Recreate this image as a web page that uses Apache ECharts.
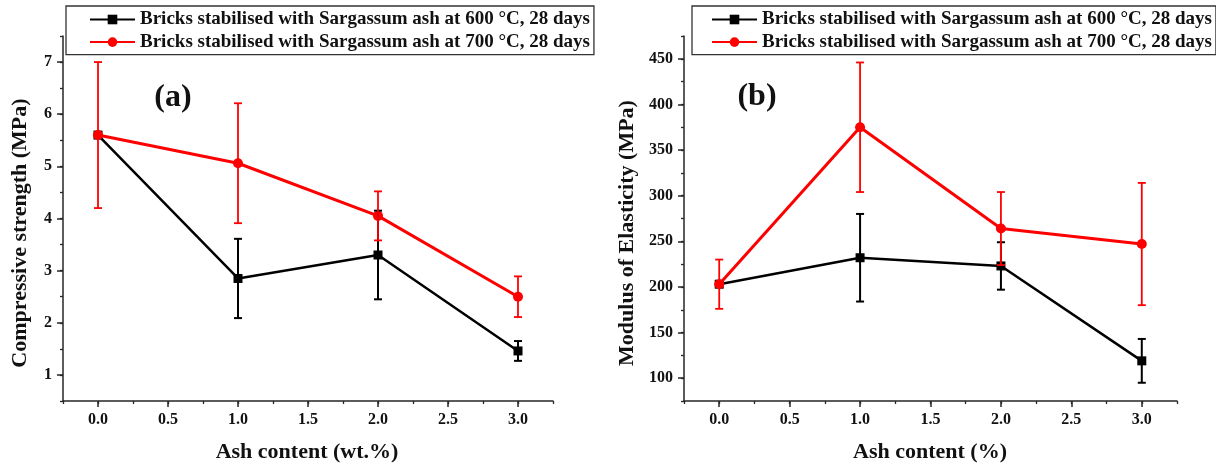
<!DOCTYPE html>
<html>
<head>
<meta charset="utf-8">
<script src="https://cdn.jsdelivr.net/npm/echarts@6/dist/echarts.min.js"></script>
<style>
html,body{margin:0;padding:0;background:#fff;}
#chart{width:1216px;height:468px;}
</style>
</head>
<body>
<div id="chart"></div>
<script>
// ---- data ----
const ashContent = [0, 1, 2, 3];
const seriesNames = [
  'Bricks stabilised with Sargassum ash at 600 °C, 28 days',
  'Bricks stabilised with Sargassum ash at 700 °C, 28 days'
];
const strength600 = [5.60, 2.85, 3.30, 1.46];
const strength600Err = [0, 0.76, 0.85, 0.19];
const strength700 = [5.60, 5.06, 4.05, 2.50];
const strength700Err = [1.40, 1.15, 0.47, 0.39];
const modulus600 = [203, 232, 223, 119];
const modulus600Err = [0, 48, 26, 24];
const modulus700 = [203, 375, 264, 247];
const modulus700Err = [27, 71, 40, 67];
const xTickLabels = [0, 0.5, 1, 1.5, 2, 2.5, 3];
const strengthTicks = [1, 2, 3, 4, 5, 6, 7];
const modulusTicks = [100, 150, 200, 250, 300, 350, 400, 450];
const panelLabels = ['(a)', '(b)'];
const xTitles = ['Ash content (wt.%)', 'Ash content (%)'];
const yTitles = ['Compressive strength (MPa)', 'Modulus of Elasticity (MPa)'];

const FONT = '"Liberation Serif", "Times New Roman", serif';
const BLACK = '#000';
const RED = '#ff0000';
const AXIS = '#262626';

function pairs(xs, ys) { return xs.map((x, i) => [x, ys[i]]); }
function triples(xs, ys, es) { return xs.map((x, i) => [x, ys[i], es[i]]); }

function errRender(color, width) {
  return function (params, api) {
    const x = api.value(0), y = api.value(1), e = api.value(2);
    if (!e) return null;
    const top = api.coord([x, y + e]);
    const bot = api.coord([x, y - e]);
    const hw = 4;
    const st = { stroke: color, lineWidth: width };
    return {
      type: 'group',
      children: [
        { type: 'line', shape: { x1: top[0], y1: top[1], x2: bot[0], y2: bot[1] }, style: st },
        { type: 'line', shape: { x1: top[0] - hw, y1: top[1], x2: top[0] + hw, y2: top[1] }, style: st },
        { type: 'line', shape: { x1: bot[0] - hw, y1: bot[1], x2: bot[0] + hw, y2: bot[1] }, style: st }
      ]
    };
  };
}

const tickLabelStyle = { fontFamily: FONT, fontWeight: 'bold', fontSize: 16, color: '#111' };

function mainX(gridIndex) {
  return {
    type: 'value', gridIndex, min: -0.25, max: 3.25, interval: 0.25,
    axisLine: { show: true, onZero: false, lineStyle: { color: AXIS, width: 1.5 } },
    axisTick: { show: true, inside: false, length: 6, lineStyle: { color: AXIS, width: 1.5 }, customValues: xTickLabels },
    axisLabel: Object.assign({ margin: 11, customValues: xTickLabels, formatter: v => Number(v).toFixed(1) }, tickLabelStyle),
    splitLine: { show: false }
  };
}
function minorX(gridIndex) {
  return {
    type: 'value', gridIndex, min: -0.25, max: 3.25, interval: 0.25, position: 'bottom', offset: 0,
    axisLine: { show: false, onZero: false },
    axisTick: { show: true, inside: false, length: 3, lineStyle: { color: AXIS, width: 1.3 } },
    axisLabel: { show: false }, splitLine: { show: false }
  };
}
function mainY(gridIndex, min, max, minorInt, ticks) {
  return {
    type: 'value', gridIndex, min, max, interval: minorInt, position: 'left',
    axisLine: { show: true, onZero: false, lineStyle: { color: AXIS, width: 1.5 } },
    axisTick: { show: true, inside: false, length: 6, lineStyle: { color: AXIS, width: 1.5 }, customValues: ticks },
    axisLabel: Object.assign({ margin: 11, customValues: ticks }, tickLabelStyle),
    splitLine: { show: false }
  };
}
function minorY(gridIndex, min, max, minorInt) {
  return {
    type: 'value', gridIndex, min, max, interval: minorInt, position: 'left', offset: 0,
    axisLine: { show: false, onZero: false },
    axisTick: { show: true, inside: false, length: 3, lineStyle: { color: AXIS, width: 1.3 } },
    axisLabel: { show: false }, splitLine: { show: false }
  };
}

function lineSeries(name, xi, yi, data, color, symbol, size, width, z) {
  return {
    name, type: 'line', xAxisIndex: xi, yAxisIndex: yi, data,
    symbol, symbolSize: size, showSymbol: true,
    lineStyle: { color, width }, itemStyle: { color }, z, animation: false
  };
}
function errSeries(xi, yi, data, color, width, z) {
  return {
    type: 'custom', xAxisIndex: xi, yAxisIndex: yi, data,
    renderItem: errRender(color, width), z, animation: false, silent: true,
    encode: { x: 0, y: [1] }
  };
}

function legend(left, padLeft) {
  return {
    left, top: 6, orient: 'vertical', data: seriesNames,
    itemWidth: 45, itemHeight: 12, itemGap: 3.6,
    padding: [4, 4, 3, padLeft],
    borderColor: '#333', borderWidth: 1.3, backgroundColor: '#fff',
    textStyle: { fontFamily: FONT, fontWeight: 'bold', fontSize: 19, color: '#111' },
    selectedMode: false
  };
}

function text(x, y, str, size, rotate) {
  return {
    type: 'text', x, y, rotation: rotate ? Math.PI / 2 : 0, z: 10,
    style: { text: str, fontFamily: FONT, fontWeight: 'bold', fontSize: size, fill: '#111',
             textAlign: 'center', textVerticalAlign: 'middle' }
  };
}

const option = {
  animation: false,
  backgroundColor: '#fff',
  grid: [
    { left: 63, top: 36, width: 490, height: 365, containLabel: false },
    { left: 684, top: 36, width: 493, height: 365, containLabel: false }
  ],
  xAxis: [mainX(0), mainX(1), minorX(0), minorX(1)],
  yAxis: [
    mainY(0, 0.5, 7.5, 0.5, strengthTicks),
    mainY(1, 75, 475, 25, modulusTicks),
    minorY(0, 0.5, 7.5, 0.5),
    minorY(1, 75, 475, 25)
  ],
  legend: [legend(66, 23), legend(692, 19)],
  series: [
    lineSeries(seriesNames[0], 0, 0, pairs(ashContent, strength600), BLACK, 'rect', 9, 2.5, 2),
    lineSeries(seriesNames[1], 0, 0, pairs(ashContent, strength700), RED, 'circle', 10, 3, 3),
    errSeries(0, 0, triples(ashContent, strength600, strength600Err), BLACK, 2, 4),
    errSeries(0, 0, triples(ashContent, strength700, strength700Err), RED, 1.8, 5),
    lineSeries(seriesNames[0], 1, 1, pairs(ashContent, modulus600), BLACK, 'rect', 9, 2.5, 2),
    lineSeries(seriesNames[1], 1, 1, pairs(ashContent, modulus700), RED, 'circle', 10, 3, 3),
    errSeries(1, 1, triples(ashContent, modulus600, modulus600Err), BLACK, 2, 4),
    errSeries(1, 1, triples(ashContent, modulus700, modulus700Err), RED, 1.8, 5)
  ],
  graphic: [
    text(173, 98, panelLabels[0], 32, false),
    text(757, 97, panelLabels[1], 32, false),
    text(307, 452, xTitles[0], 22, false),
    text(930, 452, xTitles[1], 22, false),
    text(20, 233, yTitles[0], 22, true),
    text(627, 233, yTitles[1], 22, true)
  ]
};

const chart = echarts.init(document.getElementById('chart'), null, { renderer: 'canvas' });
chart.setOption(option);
</script>
</body>
</html>
